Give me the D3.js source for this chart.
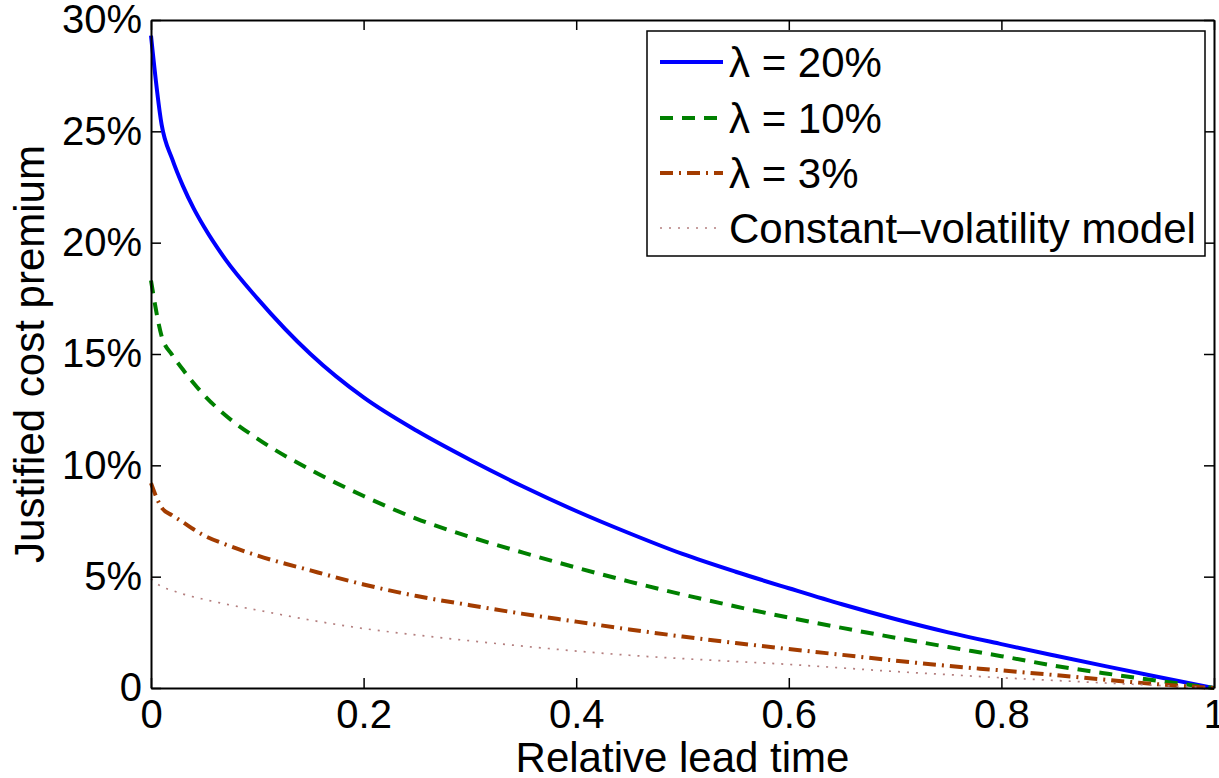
<!DOCTYPE html>
<html>
<head>
<meta charset="utf-8">
<script src="https://cdn.jsdelivr.net/npm/d3@7"></script>
<style>
  html, body { margin: 0; padding: 0; background: #fff; }
  svg { display: block; }
  text { font-family: "Liberation Sans", Arial, Helvetica, sans-serif; fill: #000; }
</style>
</head>
<body>
<svg id="chart" width="1219" height="778"></svg>
<script>
// ---- Data ----
const leadTime = [0, 0.01, 0.02, 0.03, 0.04, 0.05, 0.07, 0.1, 0.15, 0.2, 0.25, 0.3, 0.35, 0.4, 0.45, 0.5, 0.55, 0.6, 0.65, 0.7, 0.75, 0.8, 0.85, 0.9, 0.95, 1];
const lambda20 = [29.3, 25.3, 23.75, 22.55, 21.55, 20.7, 19.25, 17.5, 15.0, 13.05, 11.55, 10.25, 9.05, 7.95, 6.95, 6.02, 5.22, 4.48, 3.76, 3.1, 2.5, 1.97, 1.46, 0.96, 0.47, 0];
const lambda10 = [18.3, 15.8, 14.95, 14.3, 13.7, 13.15, 12.25, 11.2, 9.8, 8.62, 7.6, 6.79, 6.08, 5.41, 4.78, 4.2, 3.66, 3.16, 2.7, 2.26, 1.84, 1.43, 1.0, 0.64, 0.31, 0];
const lambda3 = [9.2, 8.1, 7.75, 7.45, 7.13, 6.85, 6.45, 5.95, 5.28, 4.65, 4.13, 3.72, 3.33, 2.98, 2.63, 2.31, 2.02, 1.75, 1.49, 1.23, 0.99, 0.79, 0.58, 0.36, 0.16, 0];
const constVol = [4.9, 4.55, 4.38, 4.22, 4.09, 3.98, 3.77, 3.5, 3.05, 2.67, 2.38, 2.12, 1.88, 1.66, 1.47, 1.32, 1.19, 1.06, 0.9, 0.74, 0.6, 0.46, 0.34, 0.22, 0.11, 0];

const seriesNames = ["\u03bb = 20%", "\u03bb = 10%", "\u03bb = 3%", "Constant\u2013volatility model"];
const seriesValues = [lambda20, lambda10, lambda3, constVol];

const xTicks = [0, 0.2, 0.4, 0.6, 0.8, 1];
const xTickLabels = ["0", "0.2", "0.4", "0.6", "0.8", "1"];
const yTicks = [0, 5, 10, 15, 20, 25, 30];
const yTickLabels = ["0", "5%", "10%", "15%", "20%", "25%", "30%"];

const xTitle = "Relative lead time";
const yTitle = "Justified cost premium";

// ---- Styles ----
const styles = [
  { color: "#0000ff", width: 4, dash: null },
  { color: "#008000", width: 4, dash: "13,9" },
  { color: "#a33c00", width: 4, dash: "13,6,2,6" },
  { color: "#b47f7f", width: 1.7, dash: "2,7" }
];

const W = 1219, H = 778;
const margin = { left: 151, top: 20, right: W - 1214, bottom: H - 688 };

const svg = d3.select("#chart");

const x = d3.scaleLinear().domain([0, 1]).range([margin.left, W - margin.right]);
const y = d3.scaleLinear().domain([0, 30]).range([H - margin.bottom, margin.top]);

const tickFont = 40;
const tickLen = 10;

// Lines
const line = d3.line()
  .x(d => x(d[0]))
  .y(d => y(d[1]))
  .curve(d3.curveMonotoneX);

const plot = svg.append("g");
seriesValues.forEach((vals, i) => {
  const pts = leadTime.map((t, j) => [t, vals[j]]);
  const st = styles[i];
  plot.append("path")
    .datum(pts)
    .attr("d", line)
    .attr("fill", "none")
    .attr("stroke", st.color)
    .attr("stroke-width", st.width)
    .attr("stroke-dasharray", st.dash)
    .attr("stroke-linejoin", "round");
});

// Axes (ticks inside, box on)
const xAxisB = d3.axisBottom(x).tickValues(xTicks).tickSizeInner(-tickLen).tickSizeOuter(0).tickPadding(12)
  .tickFormat((d, i) => xTickLabels[i]);
const xAxisT = d3.axisTop(x).tickValues(xTicks).tickSizeInner(-tickLen).tickSizeOuter(0).tickFormat("");
const yAxisL = d3.axisLeft(y).tickValues(yTicks).tickSizeInner(-tickLen).tickSizeOuter(0).tickPadding(9)
  .tickFormat((d, i) => yTickLabels[i]);
const yAxisR = d3.axisRight(y).tickValues(yTicks).tickSizeInner(-tickLen).tickSizeOuter(0).tickFormat("");

function styleAxis(g) {
  g.selectAll(".domain").attr("stroke", "#000").attr("stroke-width", 2);
  g.selectAll(".tick line").attr("stroke", "#000").attr("stroke-width", 1.5);
  g.selectAll("text").attr("font-size", tickFont).attr("font-family", "Liberation Sans, Arial, sans-serif").attr("fill", "#000");
}

svg.append("g").attr("transform", `translate(0,${y(0)})`).call(xAxisB).call(styleAxis);
svg.append("g").attr("transform", `translate(0,${y(30)})`).call(xAxisT).call(styleAxis);
svg.append("g").attr("transform", `translate(${x(0)},0)`).call(yAxisL).call(styleAxis);
svg.append("g").attr("transform", `translate(${x(1)},0)`).call(yAxisR).call(styleAxis);

// Axis titles
svg.append("text")
  .attr("x", (x(0) + x(1)) / 2)
  .attr("y", 772)
  .attr("text-anchor", "middle")
  .attr("font-size", 42)
  .text(xTitle);

svg.append("text")
  .attr("transform", `translate(44,${(y(0) + y(30)) / 2}) rotate(-90)`)
  .attr("text-anchor", "middle")
  .attr("font-size", 42)
  .text(yTitle);

// Legend
const legend = svg.append("g");
const lgX = 647, lgY = 31, lgW = 558, lgH = 225;
legend.append("rect")
  .attr("x", lgX).attr("y", lgY).attr("width", lgW).attr("height", lgH)
  .attr("fill", "#fff").attr("stroke", "#000").attr("stroke-width", 1.5);

const rowY = [62, 118, 173, 228];
seriesNames.forEach((name, i) => {
  const st = styles[i];
  legend.append("line")
    .attr("x1", 660).attr("x2", 723)
    .attr("y1", rowY[i]).attr("y2", rowY[i])
    .attr("stroke", st.color)
    .attr("stroke-width", st.width)
    .attr("stroke-dasharray", st.dash);
  legend.append("text")
    .attr("x", 729)
    .attr("y", rowY[i])
    .attr("dy", "0.36em")
    .attr("font-size", 42)
    .text(name);
});
</script>
</body>
</html>
